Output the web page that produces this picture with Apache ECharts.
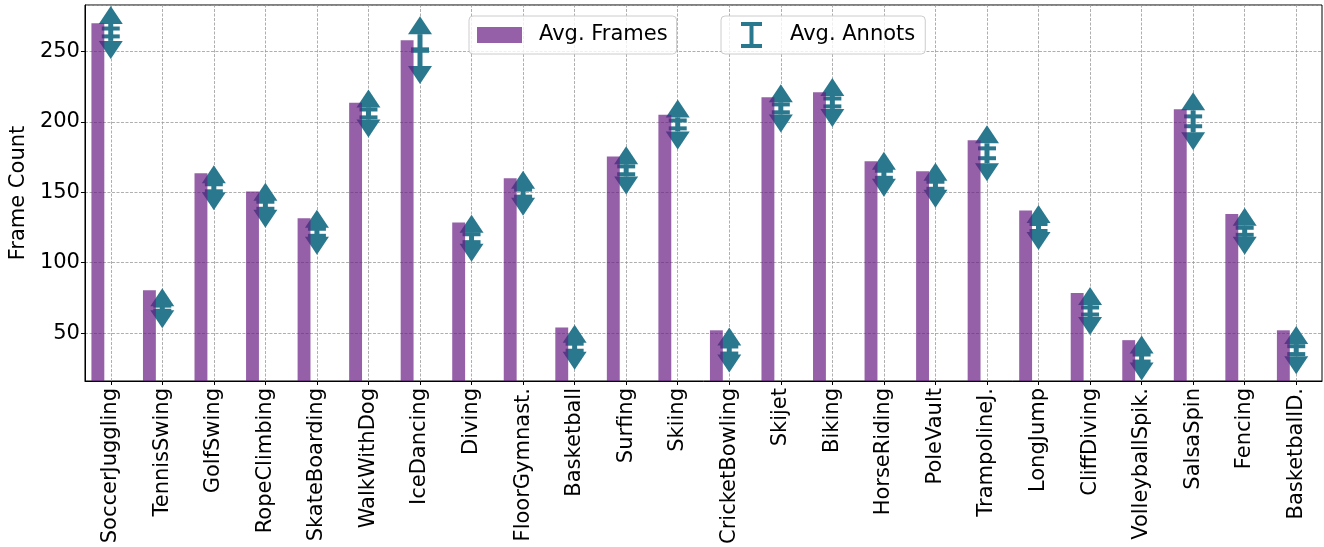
<!DOCTYPE html>
<html>
<head>
<meta charset="utf-8">
<script src="https://cdn.jsdelivr.net/npm/echarts@6/dist/echarts.min.js"></script>
<style>
  html, body { margin: 0; padding: 0; background: #ffffff; }
  #chart { width: 1324px; height: 547px; }
</style>
</head>
<body>
<div id="chart"></div>
<script>
// Action classes on the x axis
const categories = ['SoccerJuggling', 'TennisSwing', 'GolfSwing', 'RopeClimbing', 'SkateBoarding',
  'WalkWithDog', 'IceDancing', 'Diving', 'FloorGymnast.', 'Basketball', 'Surfing', 'Skiing',
  'CricketBowling', 'Skijet', 'Biking', 'HorseRiding', 'PoleVault', 'TrampolineJ.', 'LongJump',
  'CliffDiving', 'VolleyballSpik.', 'SalsaSpin', 'Fencing', 'BasketballD.'];

// Average number of frames per video
const avgFrames = [270, 80.5, 163.5, 150.5, 131.5, 213.5, 258, 128.5, 160, 54, 175.5, 205,
  52, 217.5, 221, 172, 165, 187, 137, 78.5, 45, 209, 134.5, 52];

// Average number of annotated frames (centre of each error glyph)
const avgAnnots = [263.5, 67.7, 153.2, 140.8, 121.6, 206, 251, 117.4, 149.4, 40, 165.6, 198.2,
  38, 209.6, 213.8, 162.8, 155, 177.7, 125, 65.7, 32.3, 200.4, 122.3, 37.9];

// Half range of the limit arrows around the average
const annotRange = [6.0, 1.4, 3.2, 3.2, 3.2, 4.3, 11.3, 3.9, 3.2, 3.2, 4.3, 5.0,
  3.2, 4.3, 4.6, 3.2, 3.2, 7.1, 3.2, 4.3, 3.2, 7.8, 3.9, 4.3];

// Half spread of the two caps around the average
const annotSpread = [2.8, 1.8, 2.5, 2.5, 2.5, 2.8, 0.5, 2.8, 2.5, 2.5, 2.8, 2.8,
  2.5, 2.8, 2.8, 2.5, 2.5, 3.5, 2.5, 2.5, 2.5, 3.5, 2.5, 2.8];

const yTickValues = [50, 100, 150, 200, 250];
const yMin = 16, yMax = 283;

const FONT = 'DejaVu Sans';
const PURPLE = 'rgba(104, 29, 131, 0.7)';
const TEAL = '#2a788e';
const GRID_LINE = { color: '#9a9a9a', width: 0.8, type: [3, 1.5] };

const barData = avgFrames.map((v, i) => [i, v]);
const annotData = avgAnnots.map((v, i) => [i, v, annotRange[i], annotSpread[i]]);

function renderBar(params, api) {
  const i = api.value(0);
  const top = api.coord([i, api.value(1)]);
  const base = api.coord([i, yMin]);
  const band = api.size([1, 0])[0];
  return {
    type: 'rect',
    shape: { x: top[0] - 0.375 * band, y: top[1], width: 0.25 * band, height: base[1] - top[1] },
    style: { fill: PURPLE }
  };
}

function renderAnnot(params, api) {
  const i = api.value(0);
  const mid = api.value(1), rng = api.value(2), spr = api.value(3);
  const hi = api.coord([i, mid + rng]);
  const lo = api.coord([i, mid - rng]);
  const c1 = api.coord([i, mid + spr]);
  const c2 = api.coord([i, mid - spr]);
  const x = hi[0];
  const triH = 18, triW = 12, capW = 9;
  return {
    type: 'group',
    children: [
      { type: 'line', shape: { x1: x, y1: hi[1], x2: x, y2: lo[1] },
        style: { stroke: TEAL, lineWidth: 5 } },
      { type: 'line', shape: { x1: x - capW, y1: c1[1], x2: x + capW, y2: c1[1] },
        style: { stroke: TEAL, lineWidth: 4 } },
      { type: 'line', shape: { x1: x - capW, y1: c2[1], x2: x + capW, y2: c2[1] },
        style: { stroke: TEAL, lineWidth: 4 } },
      { type: 'polygon', shape: { points: [[x - triW, hi[1]], [x + triW, hi[1]], [x, hi[1] - triH]] },
        style: { fill: TEAL } },
      { type: 'polygon', shape: { points: [[x - triW, lo[1]], [x + triW, lo[1]], [x, lo[1] + triH]] },
        style: { fill: TEAL } }
    ]
  };
}

const chart = echarts.init(document.getElementById('chart'), null, { renderer: 'canvas' });

chart.setOption({
  animation: false,
  backgroundColor: '#ffffff',
  textStyle: { fontFamily: FONT },
  grid: {
    left: 79, right: 2, top: 5, bottom: 166,
    show: true, borderColor: '#000000', borderWidth: 1, backgroundColor: 'transparent'
  },
  legend: [
    {
      data: [{ name: 'Avg. Frames', icon: 'rect' }],
      left: 469, top: 16,
      itemWidth: 45, itemHeight: 16,
      padding: [7, 9, 7, 8],
      backgroundColor: 'rgba(255,255,255,0.8)',
      borderColor: '#cccccc', borderWidth: 1, borderRadius: 4,
      textStyle: { fontFamily: FONT, fontSize: 21, color: '#000000', lineHeight: 24, padding: [0, 0, 0, 12] }
    },
    {
      data: [{ name: 'Avg. Annots', icon: 'path://M0,0H21V4H12.5V22H21V26H0V22H8.5V4H0Z' }],
      left: 721, top: 16,
      itemWidth: 21, itemHeight: 26,
      padding: [6, 10, 6, 20],
      backgroundColor: 'rgba(255,255,255,0.8)',
      borderColor: '#cccccc', borderWidth: 1, borderRadius: 4,
      textStyle: { fontFamily: FONT, fontSize: 21, color: '#000000', lineHeight: 24, padding: [0, 0, 0, 23] }
    }
  ],
  xAxis: {
    type: 'category',
    data: categories,
    boundaryGap: true,
    axisLine: { show: true, lineStyle: { color: '#000000', width: 1 } },
    axisTick: { show: true, alignWithLabel: true, length: 4, lineStyle: { color: '#000000' } },
    axisLabel: { rotate: 90, interval: 0, margin: 7, fontFamily: FONT, fontSize: 21, color: '#000000' },
    splitLine: { show: false }
  },
  yAxis: {
    type: 'value',
    min: yMin, max: yMax,
    splitNumber: 5,
    name: 'Frame Count',
    nameLocation: 'middle',
    nameGap: 44,
    nameTextStyle: { fontFamily: FONT, fontSize: 21, color: '#000000' },
    axisLine: { show: true, lineStyle: { color: '#000000', width: 1 } },
    axisTick: { show: true, length: 4, lineStyle: { color: '#000000' } },
    axisLabel: {
      margin: 5, fontFamily: FONT, fontSize: 21, color: '#000000',
      showMinLabel: false, showMaxLabel: false,
      formatter: v => (yTickValues.indexOf(v) >= 0 ? String(v) : '')
    },
    splitLine: { show: true, lineStyle: GRID_LINE }
  },
  series: [
    {
      name: 'Avg. Annots',
      type: 'custom',
      renderItem: renderAnnot,
      data: annotData,
      clip: true,
      z: 3,
      itemStyle: { color: TEAL },
      encode: { x: 0, y: 1 },
      markLine: {
        silent: true,
        symbol: 'none',
        label: { show: false },
        lineStyle: GRID_LINE,
        z: 1,
        data: categories.map(c => ({ xAxis: c }))
      }
    },
    {
      name: 'Avg. Frames',
      type: 'custom',
      renderItem: renderBar,
      data: barData,
      clip: true,
      z: 4,
      itemStyle: { color: PURPLE },
      encode: { x: 0, y: 1 }
    }
  ]
});
</script>
</body>
</html>
